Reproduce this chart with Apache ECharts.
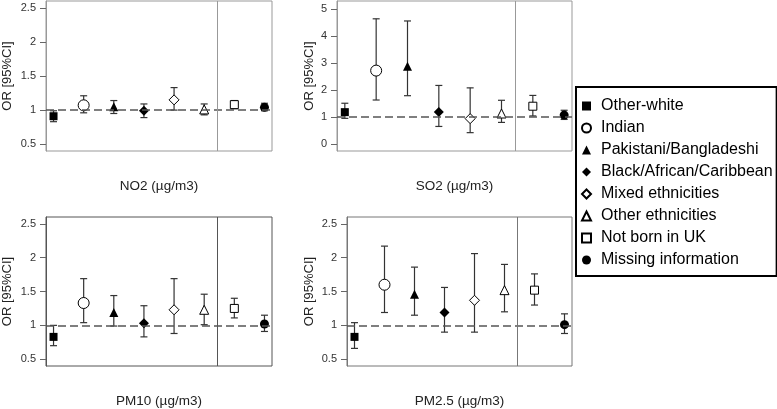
<!DOCTYPE html>
<html lang="en">
<head>
    <meta charset="utf-8"/>
    <title>OR by ethnicity and pollutant</title>
    <script src="https://cdn.jsdelivr.net/npm/echarts@6/dist/echarts.min.js"></script>
    <style>
        html, body { margin: 0; padding: 0; background: #fff; }
        #chart { width: 777px; height: 409px; }
    </style>
</head>
<body>
<div id="chart"></div>
<script>
    // 数据
    var groups = ['Other-white', 'Indian', 'Pakistani/Bangladeshi', 'Black/African/Caribbean',
        'Mixed ethnicities', 'Other ethnicities', 'Not born in UK', 'Missing information'];
    var pollutants = ['NO2 (µg/m3)', 'SO2 (µg/m3)', 'PM10 (µg/m3)', 'PM2.5 (µg/m3)'];

    var orNO2 = [0.91, 1.07, 1.05, 0.99, 1.15, 1.01, 1.08, 1.04];
    var loNO2 = [0.83, 0.96, 0.95, 0.89, 1.00, 0.93, 1.02, 0.99];
    var hiNO2 = [0.99, 1.21, 1.14, 1.09, 1.33, 1.09, 1.14, 1.10];

    var orSO2 = [1.18, 2.72, 2.88, 1.19, 0.94, 1.13, 1.40, 1.07];
    var loSO2 = [0.95, 1.63, 1.79, 0.65, 0.42, 0.80, 1.04, 0.91];
    var hiSO2 = [1.51, 4.64, 4.56, 2.17, 2.08, 1.62, 1.80, 1.25];

    var orPM10 = [0.83, 1.33, 1.19, 1.03, 1.23, 1.23, 1.25, 1.02];
    var loPM10 = [0.70, 1.04, 0.99, 0.83, 0.88, 1.01, 1.11, 0.91];
    var hiPM10 = [1.00, 1.69, 1.44, 1.29, 1.69, 1.46, 1.40, 1.15];

    var orPM25 = [0.83, 1.60, 1.46, 1.19, 1.37, 1.52, 1.52, 1.01];
    var loPM25 = [0.66, 1.19, 1.15, 0.90, 0.90, 1.20, 1.30, 0.88];
    var hiPM25 = [1.04, 2.17, 1.86, 1.56, 2.06, 1.90, 1.76, 1.17];

    var ticksSmall = [0.5, 1, 1.5, 2, 2.5];
    var ticksSO2 = [0, 1, 2, 3, 4, 5];

    // 每个组的标记样式
    var marks = [
        {symbol: 'rect', size: 8, fill: '#000'},
        {symbol: 'circle', size: 11, fill: '#fff'},
        {symbol: 'triangle', size: 9, fill: '#000'},
        {symbol: 'diamond', size: 10, fill: '#000'},
        {symbol: 'diamond', size: 10, fill: '#fff'},
        {symbol: 'triangle', size: 9, fill: '#fff'},
        {symbol: 'rect', size: 8, fill: '#fff'},
        {symbol: 'circle', size: 9, fill: '#000'}
    ];

    var panels = [
        {or: orNO2, lo: loNO2, hi: hiNO2, ticks: ticksSmall, min: 0.4, max: 2.6,
            grid: {left: 46, top: 1, width: 226, height: 150}, nameGap: 32, border: '#999'},
        {or: orSO2, lo: loSO2, hi: hiSO2, ticks: ticksSO2, min: -0.26, max: 5.3,
            grid: {left: 337, top: 1, width: 235, height: 150}, nameGap: 21, border: '#999'},
        {or: orPM10, lo: loPM10, hi: hiPM10, ticks: ticksSmall, min: 0.4, max: 2.6,
            grid: {left: 46, top: 217, width: 226, height: 151}, nameGap: 32, border: '#555'},
        {or: orPM25, lo: loPM25, hi: hiPM25, ticks: ticksSmall, min: 0.4, max: 2.6,
            grid: {left: 347, top: 217, width: 225, height: 151}, nameGap: 31, border: '#777'}
    ];

    var grids = [], xAxes = [], yAxes = [], series = [];
    panels.forEach(function (p, k) {
        grids.push({left: p.grid.left, top: p.grid.top, width: p.grid.width, height: p.grid.height,
            show: true, borderColor: p.border, borderWidth: 1, backgroundColor: 'transparent'});
        xAxes.push({
            gridIndex: k, type: 'value', min: 0.75, max: 8.25,
            name: pollutants[k], nameLocation: 'middle', nameGap: 28,
            nameTextStyle: {fontFamily: 'Liberation Sans', fontSize: 13.5, color: '#222'},
            axisLine: {show: false}, axisTick: {show: false}, axisLabel: {show: false},
            splitLine: {show: false}
        });
        yAxes.push({
            gridIndex: k, type: 'value', min: p.min, max: p.max,
            name: 'OR [95%CI]', nameLocation: 'middle', nameRotate: 90, nameGap: p.nameGap,
            nameTextStyle: {fontFamily: 'Liberation Sans', fontSize: 13, color: '#222'},
            axisLine: {show: true, lineStyle: {color: p.border}},
            axisTick: {show: true, length: 6, customValues: p.ticks, lineStyle: {color: '#666'}},
            axisLabel: {customValues: p.ticks, margin: 10, fontFamily: 'Liberation Sans',
                fontSize: 11, color: '#333'},
            splitLine: {show: false}
        });

        // 误差线
        var ciData = [];
        for (var i = 0; i < groups.length; i++) {
            ciData.push([i + 1, p.lo[i], p.hi[i]]);
        }
        series.push({
            type: 'custom', xAxisIndex: k, yAxisIndex: k, silent: true, z: 2,
            data: ciData,
            encode: {x: 0, y: [1, 2]},
            renderItem: function (params, api) {
                var a = api.coord([api.value(0), api.value(1)]);
                var b = api.coord([api.value(0), api.value(2)]);
                var st = {stroke: '#333', lineWidth: 1.2};
                return {
                    type: 'group', children: [
                        {type: 'line', shape: {x1: a[0], y1: a[1], x2: b[0], y2: b[1]}, style: st},
                        {type: 'line', shape: {x1: a[0] - 3.5, y1: a[1], x2: a[0] + 3.5, y2: a[1]}, style: st},
                        {type: 'line', shape: {x1: b[0] - 3.5, y1: b[1], x2: b[0] + 3.5, y2: b[1]}, style: st}
                    ]
                };
            },
            markLine: {
                silent: true, symbol: 'none', label: {show: false},
                data: [
                    {yAxis: 1, lineStyle: {type: [8, 4], color: '#555', width: 1.5}},
                    {xAxis: 6.43, lineStyle: {type: 'solid', color: p.border, width: 1}}
                ]
            }
        });

        // 点估计
        groups.forEach(function (g, i) {
            var m = marks[i];
            series.push({
                type: 'scatter', name: g, xAxisIndex: k, yAxisIndex: k, z: 3,
                symbol: m.symbol, symbolSize: m.size,
                itemStyle: {color: m.fill, borderColor: '#000', borderWidth: m.fill === '#fff' ? 1 : 0, opacity: 1},
                data: [[i + 1, p.or[i]]]
            });
        });
    });

    var chart = echarts.init(document.getElementById('chart'));
    chart.setOption({
        animation: false,
        backgroundColor: '#fff',
        grid: grids,
        xAxis: xAxes,
        yAxis: yAxes,
        legend: {
            data: groups,
            orient: 'vertical',
            left: 576, top: 87,
            padding: [8, 4, 5, 5],
            itemGap: 0,
            itemWidth: 9, itemHeight: 9,
            borderColor: '#000', borderWidth: 2,
            selectedMode: false,
            textStyle: {fontFamily: 'Liberation Sans', fontSize: 16, color: '#000', lineHeight: 22,
                padding: [0, 0, 0, 5]}
        },
        series: series
    });
</script>
</body>
</html>
